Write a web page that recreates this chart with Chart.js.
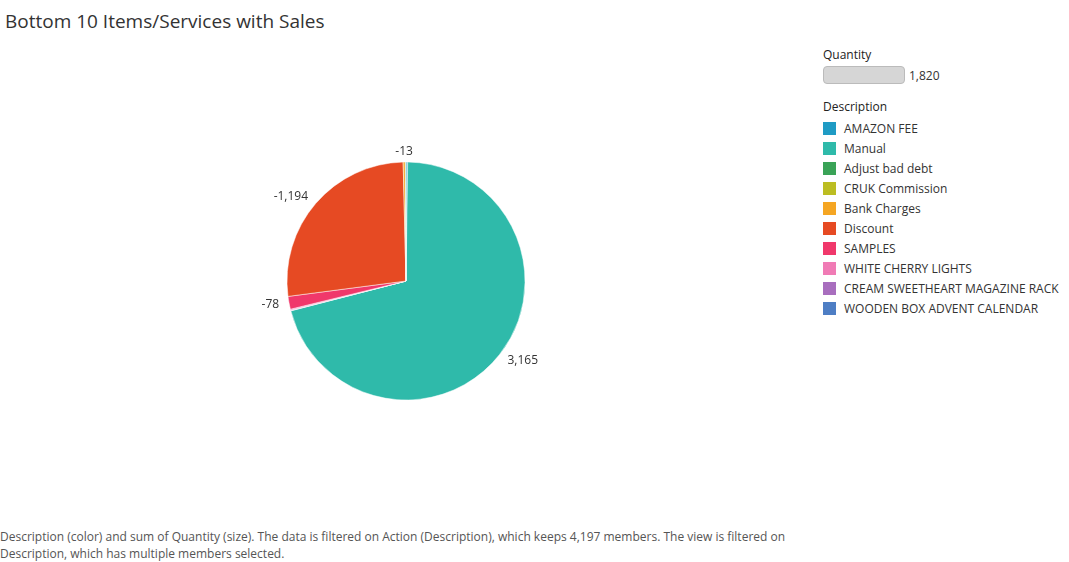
<!DOCTYPE html>
<html><head><meta charset="utf-8">
<script src="https://cdn.jsdelivr.net/npm/chart.js@4"></script>
<style>
body{margin:0;width:1069px;height:562px;background:#fff;font-family:"Open Sans",Arial,sans-serif;position:relative;overflow:hidden}
#title{position:absolute;left:5px;top:8px;font-size:19px;color:#333}
#wrap{position:absolute;left:206px;top:81px;width:400px;height:400px}
#legend{position:absolute;left:823px;top:46px;font-size:12px;color:#333}
.h{font-size:12px;color:#222;margin-bottom:3px}
.it{height:20px;display:flex;align-items:center}
.sw{width:13px;height:13px;margin-right:8px}
#foot{position:absolute;left:0;top:528px;font-size:12px;color:#555;line-height:17px;width:820px}
</style></head><body>
<div id="title">Bottom 10 Items/Services with Sales</div>
<div id="wrap"><canvas id="c"></canvas></div>
<div id="legend">
<div class="h">Quantity</div>
<div style="display:flex;align-items:center;margin-bottom:14px"><div style="width:80px;height:16px;background:#d6d6d6;border:1px solid #bbb;border-radius:4px"></div><span style="margin-left:4px">1,820</span></div>
<div class="h">Description</div>
<div id="items"></div>
</div>
<div id="foot">Description (color) and sum of Quantity (size). The data is filtered on Action (Description), which keeps 4,197 members. The view is filtered on Description, which has multiple members selected.</div>
<script>
const legendNames = ['AMAZON FEE','Manual','Adjust bad debt','CRUK Commission','Bank Charges','Discount','SAMPLES','WHITE CHERRY LIGHTS','CREAM SWEETHEART MAGAZINE RACK','WOODEN BOX ADVENT CALENDAR'];
const legendColors = ['#1f9bc4','#2fbaaa','#3aa357','#bcbd22','#f5a623','#e64a23','#f0386b','#f07bb5','#a86ebe','#4e7ec4'];
// slice order clockwise from 12 o'clock
const sliceNames = ['AMAZON FEE','Manual','WOODEN BOX ADVENT CALENDAR','CREAM SWEETHEART MAGAZINE RACK','WHITE CHERRY LIGHTS','SAMPLES','Discount','Bank Charges','CRUK Commission','Adjust bad debt'];
const sliceValues = [10, 3165, 2, 2, 6, -78, -1194, -13, 2, 2];
const shownLabels = {'Manual':'3,165','SAMPLES':'-78','Discount':'-1,194','Bank Charges':'-13'};

document.getElementById('items').innerHTML = legendNames.map((n,i)=>
  `<div class="it"><div class="sw" style="background:${legendColors[i]}"></div>${n}</div>`).join('');

const colorOf = n => legendColors[legendNames.indexOf(n)];

const labelPlugin = {
  id:'outLabels',
  afterDatasetsDraw(chart){
    const ctx = chart.ctx;
    const meta = chart.getDatasetMeta(0);
    ctx.save();
    ctx.font = '12px "Open Sans", Arial';
    ctx.fillStyle = '#333';
    ctx.textBaseline = 'middle';
    meta.data.forEach((arc,i)=>{
      const t = shownLabels[sliceNames[i]];
      if(!t) return;
      const a = (arc.startAngle + arc.endAngle)/2;
      const r = arc.outerRadius + 10;
      const x = arc.x + Math.cos(a)*r, y = arc.y + Math.sin(a)*r;
      ctx.textAlign = Math.cos(a) > 0.2 ? 'left' : (Math.cos(a) < -0.2 ? 'right' : 'center');
      ctx.fillText(t, x, y);
    });
    ctx.restore();
  }
};

new Chart(document.getElementById('c'), {
  type:'pie',
  data:{labels:sliceNames, datasets:[{data:sliceValues.map(Math.abs), backgroundColor:sliceNames.map(colorOf), borderWidth:0.5, borderColor:'#fff'}]},
  options:{responsive:true, maintainAspectRatio:false, animation:false, radius:119,
    plugins:{legend:{display:false}, tooltip:{enabled:false}}},
  plugins:[labelPlugin]
});
</script>
</body></html>
